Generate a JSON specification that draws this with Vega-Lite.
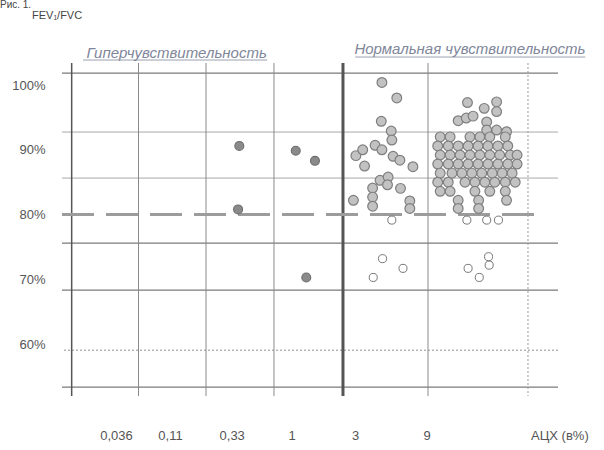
{
  "$schema": "https://vega.github.io/schema/vega-lite/v6.json",
  "width": 496,
  "height": 333,
  "autosize": {"type": "none"},
  "padding": {"left": 62, "top": 63, "right": 46, "bottom": 54},
  "background": "white",
  "config": {
    "view": {"stroke": null},
    "font": "Liberation Sans",
    "axis": {"domain": false, "ticks": false, "grid": false, "labelFont": "Liberation Sans", "labelFontSize": 13, "labelColor": "#555555"}
  },
  "datasets": {
    "hgrid": [
      {"v": 101.85, "kind": "frame"}, {"v": 92.74, "kind": "thin"}, {"v": 85.64, "kind": "thin"},
      {"v": 75.6, "kind": "frame"}, {"v": 68.34, "kind": "frame"}, {"v": 59.07, "kind": "dotted"}, {"v": 53.36, "kind": "frame"}
    ],
    "vgrid": [
      {"u": 0.156, "kind": "axis"}, {"u": 1.234, "kind": "solid"}, {"u": 2.323, "kind": "solid"},
      {"u": 3.419, "kind": "solid"}, {"u": 4.532, "kind": "divider"}, {"u": 5.903, "kind": "solid"}, {"u": 7.516, "kind": "dotted"}
    ],
    "cutoff": [{"v": 80, "u": 0, "u2": 7.71}],
    "underline": [{"u": 0.34, "u2": 3.31, "v": 103.86}, {"u": 4.73, "u2": 8.44, "v": 104.32}],
    "notes": [
      {"role": "header", "label": "Гиперчувствительность", "u": 1.85, "v": 104.94},
      {"role": "header", "label": "Нормальная чувствительность", "u": 6.58, "v": 105.56},
      {"role": "unit", "label": "АЦХ (в%)", "u": 8.03, "v": 45.8},
      {"role": "ytitle", "label": "FEV₁/FVC", "u": -0.484, "v": 110.66},
      {"role": "fig", "label": "Рис. 1.", "u": -1.0, "v": 113.13}
    ],
    "points": [
      {"u": 2.86, "v": 90.6, "g": "dark"}, {"u": 2.84, "v": 80.8, "g": "dark"}, {"u": 3.77, "v": 89.85, "g": "dark"},
      {"u": 4.08, "v": 88.3, "g": "dark"}, {"u": 3.94, "v": 70.3, "g": "dark"},

      {"u": 5.16, "v": 100.4, "g": "light"}, {"u": 5.40, "v": 98.0, "g": "light"}, {"u": 5.15, "v": 94.4, "g": "light"},
      {"u": 5.31, "v": 92.9, "g": "light"}, {"u": 5.32, "v": 91.5, "g": "light"},
      {"u": 4.74, "v": 89.1, "g": "light"}, {"u": 4.85, "v": 90.0, "g": "light"}, {"u": 5.05, "v": 90.7, "g": "light"},
      {"u": 5.16, "v": 90.0, "g": "light"}, {"u": 5.34, "v": 89.0, "g": "light"}, {"u": 5.45, "v": 88.4, "g": "light"},
      {"u": 4.88, "v": 87.5, "g": "light"}, {"u": 5.66, "v": 87.4, "g": "light"},
      {"u": 5.13, "v": 85.3, "g": "light"}, {"u": 5.26, "v": 85.8, "g": "light"}, {"u": 5.25, "v": 84.6, "g": "light"},
      {"u": 5.01, "v": 84.1, "g": "light"}, {"u": 5.46, "v": 84.05, "g": "light"}, {"u": 5.01, "v": 82.7, "g": "light"},
      {"u": 4.70, "v": 82.2, "g": "light"}, {"u": 5.01, "v": 81.3, "g": "light"}, {"u": 5.61, "v": 82.1, "g": "light"},
      {"u": 5.61, "v": 80.95, "g": "light"},
      {"u": 5.32, "v": 79.15, "g": "ring"}, {"u": 5.17, "v": 73.2, "g": "ring"}, {"u": 5.50, "v": 71.7, "g": "ring"},
      {"u": 5.02, "v": 70.3, "g": "ring"},

      {"u": 6.54, "v": 97.3, "g": "light"}, {"u": 7.01, "v": 97.4, "g": "light"}, {"u": 6.81, "v": 96.4, "g": "light"},
      {"u": 7.01, "v": 95.9, "g": "light"}, {"u": 6.39, "v": 94.5, "g": "light"}, {"u": 6.52, "v": 94.9, "g": "light"},
      {"u": 6.63, "v": 95.2, "g": "light"}, {"u": 6.85, "v": 94.3, "g": "light"}, {"u": 6.85, "v": 93.05, "g": "light"},
      {"u": 7.01, "v": 93.05, "g": "light"}, {"u": 7.17, "v": 92.8, "g": "light"},

      {"u": 6.10, "v": 92.0, "g": "light"}, {"u": 6.26, "v": 92.0, "g": "light"}, {"u": 6.58, "v": 92.0, "g": "light"},
      {"u": 6.74, "v": 92.0, "g": "light"}, {"u": 6.90, "v": 92.0, "g": "light"}, {"u": 7.15, "v": 92.0, "g": "light"},

      {"u": 6.06, "v": 90.6, "g": "light"}, {"u": 6.23, "v": 90.6, "g": "light"}, {"u": 6.39, "v": 90.6, "g": "light"},
      {"u": 6.55, "v": 90.6, "g": "light"}, {"u": 6.71, "v": 90.6, "g": "light"}, {"u": 6.87, "v": 90.6, "g": "light"},
      {"u": 7.03, "v": 90.6, "g": "light"}, {"u": 7.19, "v": 90.6, "g": "light"},

      {"u": 6.10, "v": 89.2, "g": "light"}, {"u": 6.26, "v": 89.2, "g": "light"}, {"u": 6.42, "v": 89.2, "g": "light"},
      {"u": 6.58, "v": 89.2, "g": "light"}, {"u": 6.74, "v": 89.2, "g": "light"}, {"u": 6.90, "v": 89.2, "g": "light"},
      {"u": 7.06, "v": 89.2, "g": "light"}, {"u": 7.23, "v": 89.2, "g": "light"}, {"u": 7.34, "v": 89.2, "g": "light"},

      {"u": 6.06, "v": 87.8, "g": "light"}, {"u": 6.23, "v": 87.8, "g": "light"}, {"u": 6.39, "v": 87.8, "g": "light"},
      {"u": 6.55, "v": 87.8, "g": "light"}, {"u": 6.71, "v": 87.8, "g": "light"}, {"u": 6.87, "v": 87.8, "g": "light"},
      {"u": 7.03, "v": 87.8, "g": "light"}, {"u": 7.19, "v": 87.8, "g": "light"}, {"u": 7.34, "v": 87.8, "g": "light"},

      {"u": 6.10, "v": 86.4, "g": "light"}, {"u": 6.29, "v": 86.4, "g": "light"}, {"u": 6.45, "v": 86.4, "g": "light"},
      {"u": 6.61, "v": 86.4, "g": "light"}, {"u": 6.77, "v": 86.4, "g": "light"}, {"u": 6.94, "v": 86.4, "g": "light"},
      {"u": 7.10, "v": 86.4, "g": "light"}, {"u": 7.26, "v": 86.4, "g": "light"},

      {"u": 6.06, "v": 85.0, "g": "light"}, {"u": 6.23, "v": 85.0, "g": "light"}, {"u": 6.50, "v": 85.0, "g": "light"},
      {"u": 6.66, "v": 85.0, "g": "light"}, {"u": 6.82, "v": 85.0, "g": "light"}, {"u": 6.98, "v": 85.0, "g": "light"},
      {"u": 7.15, "v": 85.0, "g": "light"}, {"u": 7.31, "v": 85.0, "g": "light"},

      {"u": 6.10, "v": 83.6, "g": "light"}, {"u": 6.26, "v": 83.6, "g": "light"}, {"u": 6.66, "v": 83.6, "g": "light"},
      {"u": 6.90, "v": 83.6, "g": "light"}, {"u": 7.15, "v": 83.6, "g": "light"},

      {"u": 6.39, "v": 82.2, "g": "light"}, {"u": 6.39, "v": 80.95, "g": "light"}, {"u": 6.72, "v": 82.2, "g": "light"},
      {"u": 6.72, "v": 80.95, "g": "light"}, {"u": 7.17, "v": 82.2, "g": "light"},

      {"u": 6.53, "v": 79.15, "g": "ring"}, {"u": 6.85, "v": 79.15, "g": "ring"}, {"u": 7.04, "v": 79.15, "g": "ring"},
      {"u": 6.88, "v": 73.5, "g": "ring"}, {"u": 6.89, "v": 72.2, "g": "ring"}, {"u": 6.55, "v": 71.7, "g": "ring"},
      {"u": 6.73, "v": 70.3, "g": "ring"}
    ]
  },
  "layer": [
    {
      "data": {"name": "points"},
      "mark": {"type": "point", "filled": false, "shape": "circle", "opacity": 0},
      "encoding": {
        "x": {
          "field": "u", "type": "quantitative", "title": null,
          "scale": {"domain": [0, 8], "nice": false, "zero": false},
          "axis": {
            "values": [0.871, 1.742, 2.737, 3.705, 4.726, 5.882],
            "labelExpr": "datum.value < 1.3 ? '0,036' : datum.value < 2.2 ? '0,11' : datum.value < 3.2 ? '0,33' : datum.value < 4.2 ? '1' : datum.value < 5.3 ? '3' : '9'",
            "labelPadding": 33, "labelAngle": 0, "labelFlush": false, "labelOverlap": false
          }
        },
        "y": {
          "field": "v", "type": "quantitative", "title": null,
          "scale": {"domain": [52, 103.4], "nice": false, "zero": false},
          "axis": {"values": [60, 70, 80, 90, 100], "labelExpr": "datum.value + '%'", "labelPadding": 17}
        }
      }
    },
    {
      "data": {"name": "hgrid"},
      "transform": [{"filter": "datum.kind === 'frame'"}],
      "mark": {"type": "rule", "color": "#7a7a7a", "strokeWidth": 1.2},
      "encoding": {"y": {"field": "v", "type": "quantitative", "title": null, "scale": {"domain": [52, 103.4], "nice": false, "zero": false}}}
    },
    {
      "data": {"name": "hgrid"},
      "transform": [{"filter": "datum.kind === 'thin'"}],
      "mark": {"type": "rule", "color": "#a8a8a8", "strokeWidth": 1},
      "encoding": {"y": {"field": "v", "type": "quantitative", "title": null, "scale": {"domain": [52, 103.4], "nice": false, "zero": false}}}
    },
    {
      "data": {"name": "hgrid"},
      "transform": [{"filter": "datum.kind === 'dotted'"}],
      "mark": {"type": "rule", "color": "#909090", "strokeWidth": 1, "strokeDash": [2, 2]},
      "encoding": {"y": {"field": "v", "type": "quantitative", "title": null, "scale": {"domain": [52, 103.4], "nice": false, "zero": false}}}
    },
    {
      "data": {"name": "vgrid"},
      "transform": [{"filter": "datum.kind === 'solid'"}],
      "mark": {"type": "rule", "color": "#8a8a8a", "strokeWidth": 1},
      "encoding": {"x": {"field": "u", "type": "quantitative", "title": null, "scale": {"domain": [0, 8], "nice": false, "zero": false}}}
    },
    {
      "data": {"name": "vgrid"},
      "transform": [{"filter": "datum.kind === 'axis'"}],
      "mark": {"type": "rule", "color": "#555555", "strokeWidth": 1.5},
      "encoding": {"x": {"field": "u", "type": "quantitative", "title": null, "scale": {"domain": [0, 8], "nice": false, "zero": false}}}
    },
    {
      "data": {"name": "vgrid"},
      "transform": [{"filter": "datum.kind === 'divider'"}],
      "mark": {"type": "rule", "color": "#555555", "strokeWidth": 3},
      "encoding": {"x": {"field": "u", "type": "quantitative", "title": null, "scale": {"domain": [0, 8], "nice": false, "zero": false}}}
    },
    {
      "data": {"name": "vgrid"},
      "transform": [{"filter": "datum.kind === 'dotted'"}],
      "mark": {"type": "rule", "color": "#9a9a9a", "strokeWidth": 1, "strokeDash": [2, 2]},
      "encoding": {"x": {"field": "u", "type": "quantitative", "title": null, "scale": {"domain": [0, 8], "nice": false, "zero": false}}}
    },
    {
      "data": {"name": "cutoff"},
      "mark": {"type": "rule", "color": "#9c9c9c", "strokeWidth": 3, "strokeDash": [32, 12]},
      "encoding": {
        "x": {"field": "u", "type": "quantitative", "title": null, "scale": {"domain": [0, 8], "nice": false, "zero": false}},
        "x2": {"field": "u2"},
        "y": {"field": "v", "type": "quantitative", "title": null, "scale": {"domain": [52, 103.4], "nice": false, "zero": false}}
      }
    },
    {
      "data": {"name": "points"},
      "mark": {"type": "point", "filled": false, "shape": "circle", "opacity": 1},
      "encoding": {
        "x": {"field": "u", "type": "quantitative", "title": null, "scale": {"domain": [0, 8], "nice": false, "zero": false}},
        "y": {"field": "v", "type": "quantitative", "title": null, "scale": {"domain": [52, 103.4], "nice": false, "zero": false}},
        "fill": {"field": "g", "type": "nominal", "legend": null, "scale": {"domain": ["light", "dark", "ring"], "range": ["#c2c2c2", "#8a8a8a", "#ffffff"]}},
        "stroke": {"field": "g", "type": "nominal", "legend": null, "scale": {"domain": ["light", "dark", "ring"], "range": ["#7e7e7e", "#6c6c6c", "#777777"]}},
        "size": {"field": "g", "type": "nominal", "legend": null, "scale": {"domain": ["light", "dark", "ring"], "range": [95, 65, 80]}},
        "strokeWidth": {"field": "g", "type": "nominal", "legend": null, "scale": {"domain": ["light", "dark", "ring"], "range": [1.2, 1, 2.4]}}
      }
    },
    {
      "data": {"name": "underline"},
      "mark": {"type": "rule", "color": "#9aa0b0", "strokeWidth": 1},
      "encoding": {
        "x": {"field": "u", "type": "quantitative", "title": null, "scale": {"domain": [0, 8], "nice": false, "zero": false}},
        "x2": {"field": "u2"},
        "y": {"field": "v", "type": "quantitative", "title": null, "scale": {"domain": [52, 103.4], "nice": false, "zero": false}}
      }
    },
    {
      "data": {"name": "notes"},
      "transform": [{"filter": "datum.role === 'header'"}],
      "mark": {"type": "text", "font": "Liberation Sans", "fontSize": 15, "fontStyle": "italic", "color": "#80869a", "align": "center", "baseline": "middle"},
      "encoding": {
        "x": {"field": "u", "type": "quantitative", "title": null, "scale": {"domain": [0, 8], "nice": false, "zero": false}},
        "y": {"field": "v", "type": "quantitative", "title": null, "scale": {"domain": [52, 103.4], "nice": false, "zero": false}},
        "text": {"field": "label"}
      }
    },
    {
      "data": {"name": "notes"},
      "transform": [{"filter": "datum.role === 'unit'"}],
      "mark": {"type": "text", "font": "Liberation Sans", "fontSize": 13, "color": "#555555", "align": "center", "baseline": "middle"},
      "encoding": {
        "x": {"field": "u", "type": "quantitative", "title": null, "scale": {"domain": [0, 8], "nice": false, "zero": false}},
        "y": {"field": "v", "type": "quantitative", "title": null, "scale": {"domain": [52, 103.4], "nice": false, "zero": false}},
        "text": {"field": "label"}
      }
    },
    {
      "data": {"name": "notes"},
      "transform": [{"filter": "datum.role === 'ytitle'"}],
      "mark": {"type": "text", "font": "Liberation Sans", "fontSize": 11, "color": "#444444", "align": "left", "baseline": "middle"},
      "encoding": {
        "x": {"field": "u", "type": "quantitative", "title": null, "scale": {"domain": [0, 8], "nice": false, "zero": false}},
        "y": {"field": "v", "type": "quantitative", "title": null, "scale": {"domain": [52, 103.4], "nice": false, "zero": false}},
        "text": {"field": "label"}
      }
    },
    {
      "data": {"name": "notes"},
      "transform": [{"filter": "datum.role === 'fig'"}],
      "mark": {"type": "text", "font": "Liberation Sans", "fontSize": 10, "color": "#444444", "align": "left", "baseline": "top"},
      "encoding": {
        "x": {"field": "u", "type": "quantitative", "title": null, "scale": {"domain": [0, 8], "nice": false, "zero": false}},
        "y": {"field": "v", "type": "quantitative", "title": null, "scale": {"domain": [52, 103.4], "nice": false, "zero": false}},
        "text": {"field": "label"}
      }
    }
  ]
}
